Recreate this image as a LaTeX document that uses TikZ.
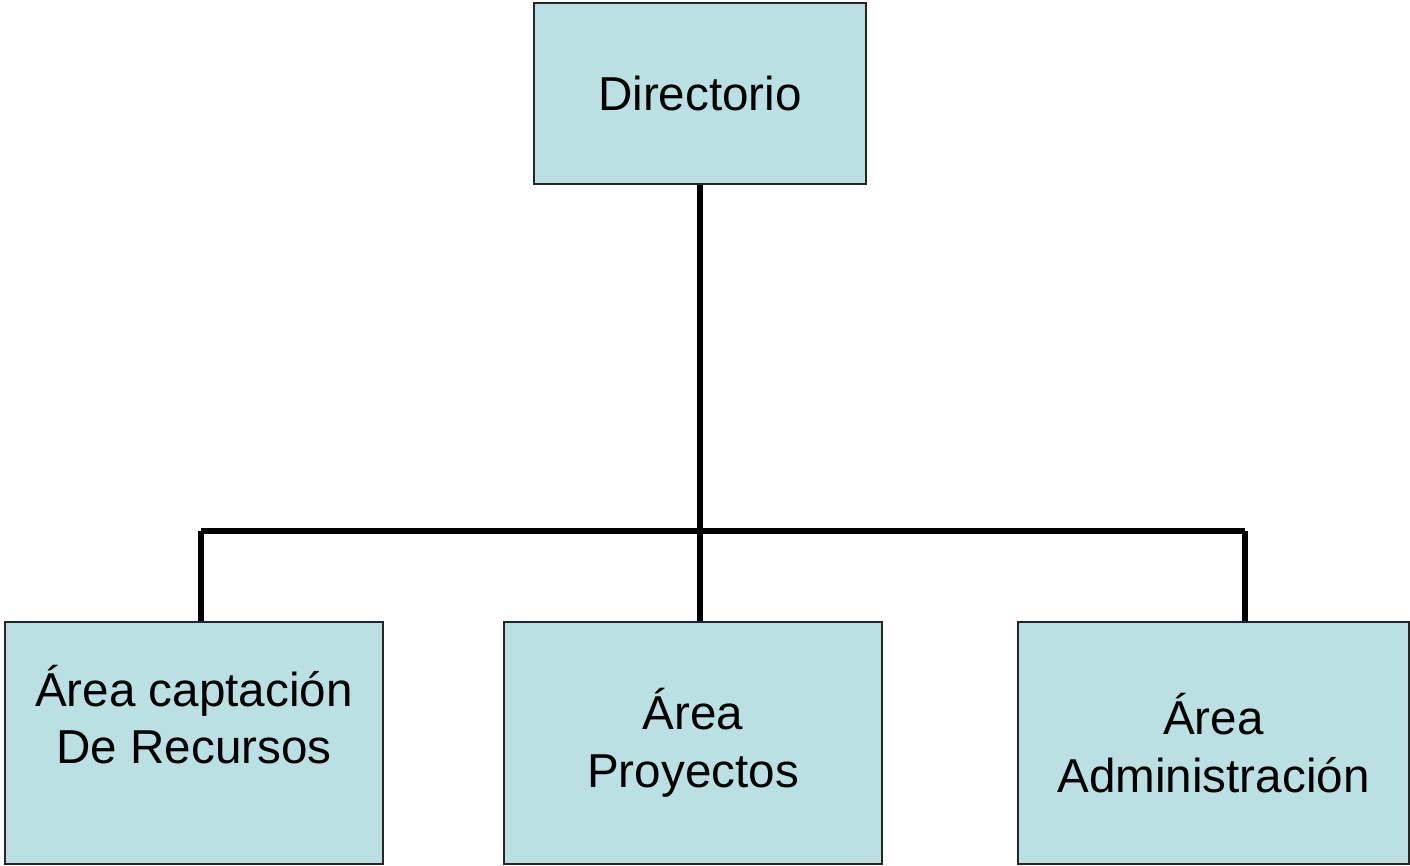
\documentclass[tikz,border=0pt]{standalone}
\usepackage{fontspec}
\setmainfont{Liberation Sans}
\usetikzlibrary{arrows}
\definecolor{caja}{RGB}{187,224,227}

\begin{document}
\begin{tikzpicture}[x=1pt,y=1pt]
\tikzstyle{area}=[draw=black!85,line width=0.9pt,fill=caja,align=center,inner sep=0pt,font=\fontsize{23.8}{28.8}\selectfont]
\tikzstyle{op}=[line width=3pt]
\useasboundingbox (0,0) rectangle (705,433);
\node (1) at (350,386.25) [area,minimum width=166pt,minimum height=90.5pt]{Directorio};
\node (2) at (97,61.5) [area,minimum width=189pt,minimum height=121pt]{Área captación\\De Recursos\\ };
\node (3) at (346.5,61.5) [area,minimum width=189pt,minimum height=121pt]{Área\\Proyectos};
\node (4) at (606.75,61.5) [area,minimum width=195.5pt,minimum height=121pt]{Área\\Administración};
\coordinate (5) at (100.5,167.5);
\coordinate (6) at (622.5,167.5);

\draw[op] (1.south) -- (1.south |- 3.north);
\draw[op] (5) -- (6);
\draw[op] (5) -- (5 |- 2.north);
\draw[op] (6) -- (6 |- 4.north);
\end{tikzpicture}
\end{document}
